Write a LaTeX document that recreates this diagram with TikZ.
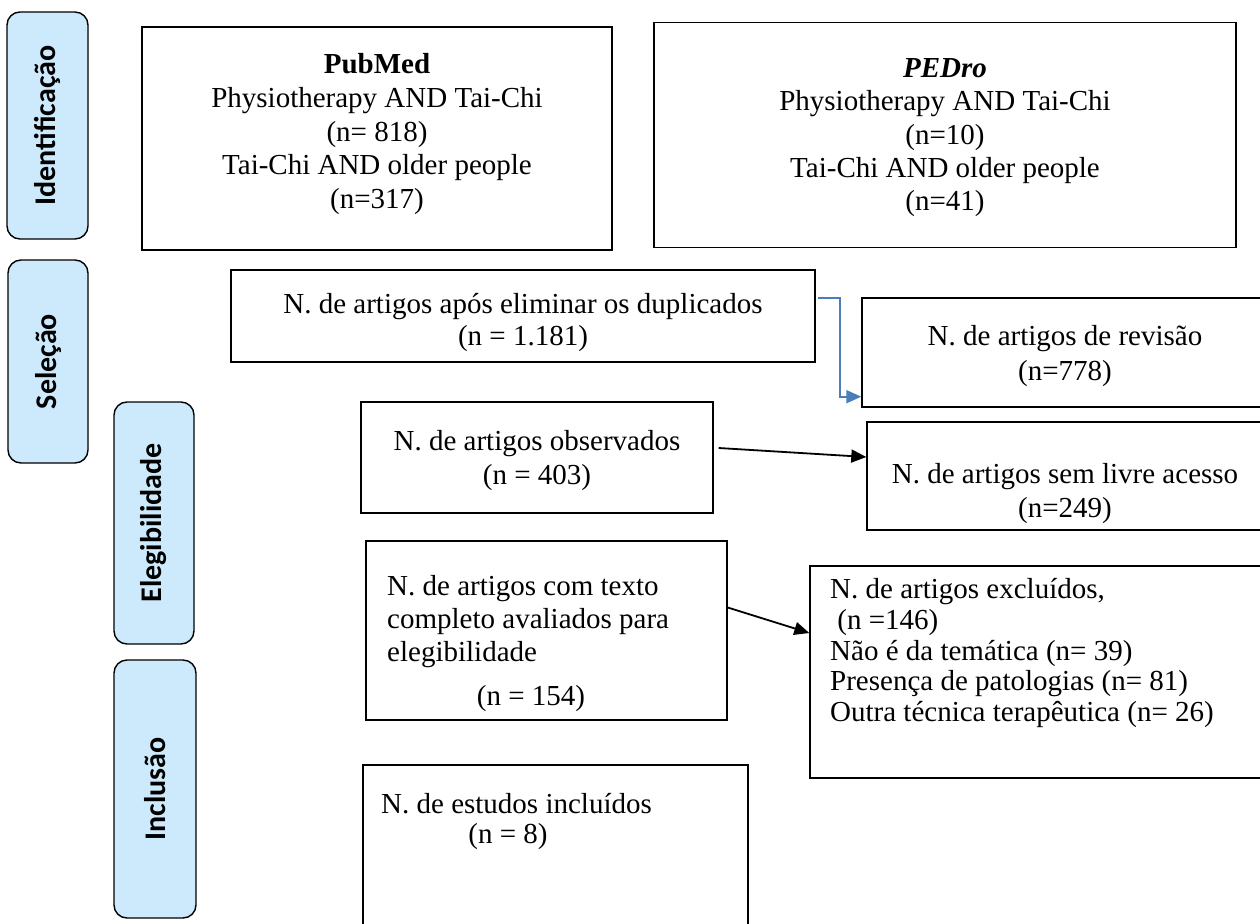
\documentclass[tikz,border=0pt]{standalone}
\usepackage{fontspec}
\setmainfont{Liberation Serif}
\newfontfamily\tabfont{Carlito}
\usetikzlibrary{arrows.meta,calc}
\definecolor{tabblue}{RGB}{204,234,251}
\definecolor{linkblue}{RGB}{74,126,187}
\begin{document}
\begin{tikzpicture}[x=1pt,y=-1pt,
  every node/.style={font=\fontsize{29}{33}\selectfont},
  tabbox/.style={draw, line width=1.4pt, rounded corners=13pt, fill=tabblue, rotate=90,
    inner sep=0pt, font=\tabfont\bfseries\fontsize{30}{34}\selectfont},
  flowbox/.style={draw, line width=1.4pt, inner sep=0pt},
  txt/.style={anchor=base, inner sep=0pt},
  ltxt/.style={anchor=base west, inner sep=0pt},
  blackarrow/.style={line width=1.8pt, -{Triangle[length=15pt,width=13pt]}},
  bluearrow/.style={line width=1.8pt, draw=linkblue, -{Triangle[length=15pt,width=13pt,fill=linkblue]}}
]
\useasboundingbox (0,0) rectangle (1260,923);

% phase tabs
\node[tabbox, minimum width=227pt, minimum height=81pt] (tid) at (47.5,125.5) {Identificação};
\node[tabbox, minimum width=203pt, minimum height=80pt] (tsel) at (48,361.5) {Seleção};
\node[tabbox, minimum width=242pt, minimum height=80pt] (tele) at (154,523) {Elegibilidade};
\node[tabbox, minimum width=258pt, minimum height=82pt] (tinc) at (155,789) {Inclusão};

% boxes
\node[flowbox, minimum width=470pt, minimum height=223pt] (pub) at (377,138.5) {};
\node[flowbox, minimum width=582pt, minimum height=225pt] (ped) at (945,135) {};
\node[flowbox, minimum width=584pt, minimum height=92pt] (dup) at (523,316) {};
\node[flowbox, minimum width=408pt, minimum height=109pt] (rev) at (1066,352.5) {};
\node[flowbox, minimum width=352pt, minimum height=111pt] (obs) at (537,457.5) {};
\node[flowbox, minimum width=403pt, minimum height=108pt] (liv) at (1068.5,476) {};
\node[flowbox, minimum width=361pt, minimum height=179pt] (tex) at (546.5,630.5) {};
\node[flowbox, minimum width=460pt, minimum height=212pt] (exc) at (1040,672) {};
\node[flowbox, minimum width=385pt, minimum height=190pt] (inc) at (555.5,860) {};

% texts PubMed
\node[txt] (pub1) at (377,74) {\textbf{PubMed}};
\node[txt] (pub2) at (377,107.5) {Physiotherapy AND Tai-Chi};
\node[txt] (pub3) at (377,141) {(n= 818)};
\node[txt] (pub4) at (377,174.5) {Tai-Chi AND older people};
\node[txt] (pub5) at (377,208) {(n=317)};
% texts PEDro
\node[txt] (ped1) at (945,78) {\textbf{\textit{PEDro}}};
\node[txt] (ped2) at (945,111) {Physiotherapy AND Tai-Chi};
\node[txt] (ped3) at (945,144) {(n=10)};
\node[txt] (ped4) at (945,177) {Tai-Chi AND older people};
\node[txt] (ped5) at (945,210) {(n=41)};
% duplicados
\node[txt] (dup1) at (523,313) {N. de artigos após eliminar os duplicados};
\node[txt] (dup2) at (523,345) {(n = 1.181)};
% revisao
\node[txt] (rev1) at (1065,345) {N. de artigos de revisão};
\node[txt] (rev2) at (1065,380) {(n=778)};
% observados
\node[txt] (obs1) at (537,450) {N. de artigos observados};
\node[txt] (obs2) at (537,484) {(n = 403)};
% livre acesso
\node[txt] (liv1) at (1065,483) {N. de artigos sem livre acesso};
\node[txt] (liv2) at (1065,517) {(n=249)};
% texto completo
\node[ltxt] (tex1) at (387,595) {N. de artigos com texto};
\node[ltxt] (tex2) at (387,628) {completo avaliados para};
\node[ltxt] (tex3) at (387,661) {elegibilidade};
\node[txt] (tex4) at (531,705) {(n = 154)};
% excluidos
\node[ltxt] (exc1) at (830,598) {N. de artigos excluídos,};
\node[ltxt] (exc2) at (830,629) {\ (n =146)};
\node[ltxt] (exc3) at (830,660) {Não é da temática (n= 39)};
\node[ltxt] (exc4) at (830,690) {Presença de patologias (n= 81)};
\node[ltxt] (exc5) at (830,721) {Outra técnica terapêutica (n= 26)};
% incluidos
\node[ltxt] (inc1) at (381,813) {N. de estudos incluídos};
\node[txt] (inc2) at (508,843) {(n = 8)};

% connectors
\draw[bluearrow] ([xshift=2pt,yshift=-29pt]dup.north east) -- ++(22,0) |- ([yshift=11pt]rev.south west);
\draw[blackarrow] ([xshift=5pt,yshift=9.5pt]obs.east) -- ([yshift=19pt]liv.west);
\draw[blackarrow] ([yshift=23pt]tex.east) -- ([yshift=39pt]exc.west);
\end{tikzpicture}
\end{document}
